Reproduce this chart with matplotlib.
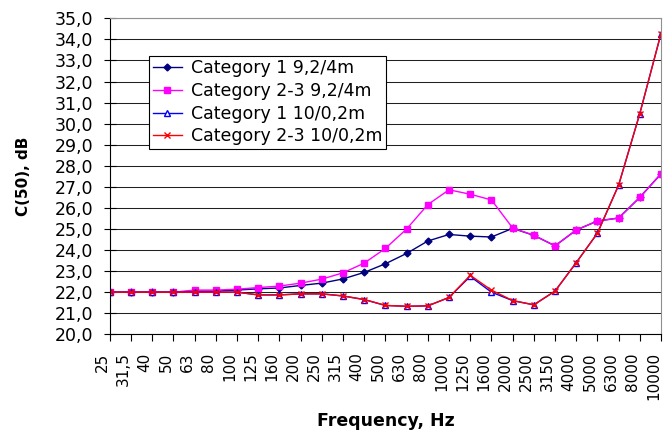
import numpy as np
import matplotlib
matplotlib.use("Agg")
import matplotlib.pyplot as plt

# octave band centres, Hz
freq_labels = ['25', '31,5', '40', '50', '63', '80', '100', '125', '160', '200',
               '250', '315', '400', '500', '630', '800', '1000', '1250', '1600',
               '2000', '2500', '3150', '4000', '5000', '6300', '8000', '10000']

# C(50) values, dB
cat1_92 = [22.0, 22.0, 22.0, 22.0, 22.05, 22.05, 22.1, 22.16, 22.2, 22.32,
           22.43, 22.63, 22.94, 23.35, 23.84, 24.43, 24.74, 24.66, 24.62,
           25.03, 24.7, 24.2, 24.95, 25.38, 25.52, 26.5, 27.62]
cat23_92 = [22.0, 22.0, 22.0, 22.0, 22.1, 22.1, 22.14, 22.22, 22.29, 22.43,
            22.62, 22.92, 23.38, 24.08, 25.0, 26.16, 26.86, 26.65, 26.38,
            25.05, 24.7, 24.2, 24.95, 25.38, 25.52, 26.5, 27.62]
cat1_10 = [22.0, 22.0, 22.0, 22.0, 22.0, 22.0, 22.0, 21.87, 21.87, 21.92,
           21.92, 21.82, 21.65, 21.37, 21.33, 21.35, 21.75, 22.75, 22.0,
           21.6, 21.4, 22.05, 23.4, 24.8, 27.08, 30.48, 34.28]
cat23_10 = [22.0, 22.0, 22.0, 22.0, 22.0, 22.0, 22.0, 21.87, 21.87, 21.92,
            21.92, 21.82, 21.65, 21.37, 21.33, 21.35, 21.75, 22.8, 22.1,
            21.6, 21.4, 22.05, 23.4, 24.8, 27.08, 30.48, 34.28]

x = np.arange(len(freq_labels))

fig = plt.figure(figsize=(6.66, 4.37), dpi=100)
ax = fig.add_axes([0.165, 0.235, 0.8275, 0.723])

ax.plot(x, cat1_92, color='#000080', lw=1, marker='D', ms=3.5,
        label='Category 1 9,2/4m')
ax.plot(x, cat23_92, color='#FF00FF', lw=1, marker='s', ms=4,
        label='Category 2-3 9,2/4m')
ax.plot(x, cat1_10, color='#0000FF', lw=1, marker='^', ms=5,
        mfc='white', mec='#0000FF', mew=1, label='Category 1 10/0,2m')
ax.plot(x, cat23_10, color='#FF0000', lw=1, marker='x', ms=4.5, mew=1,
        label='Category 2-3 10/0,2m')

ax.set_xlim(0, len(freq_labels) - 1)
ax.set_ylim(20, 35)
ax.set_yticks(np.arange(20, 35.5, 1))
ax.set_yticklabels([f'{v:.1f}'.replace('.', ',') for v in np.arange(20, 35.5, 1)])
ax.set_xticks(x)
# rotated labels sit just left of their ticks
ax.set_xticklabels(freq_labels, rotation=90, va='top', ha='right')

ax.yaxis.grid(True, color='#202020', lw=0.75)
ax.set_axisbelow(True)

for side in ['top', 'right']:
    ax.spines[side].set_color('#909090')
for side in ['left', 'bottom']:
    ax.spines[side].set_color('black')

ax.tick_params(axis='y', direction='inout', length=8, width=0.8,
               labelsize=12.5, pad=8)
ax.tick_params(axis='x', direction='out', length=5, width=0.8,
               labelsize=11, pad=8)

ax.set_xlabel('Frequency, Hz', fontsize=12.5, fontweight='bold', labelpad=8)
ax.set_ylabel('C(50), dB', fontsize=11, fontweight='bold', labelpad=17)

leg = ax.legend(loc='upper left', bbox_to_anchor=(0.0713, 0.881),
                borderaxespad=0, fontsize=12.5, frameon=True, fancybox=False,
                edgecolor='black', framealpha=1, handlelength=1.7,
                handletextpad=0.5, labelspacing=0.27, borderpad=0.2)
leg.get_frame().set_linewidth(0.8)

fig.savefig('out.png', dpi=100)
